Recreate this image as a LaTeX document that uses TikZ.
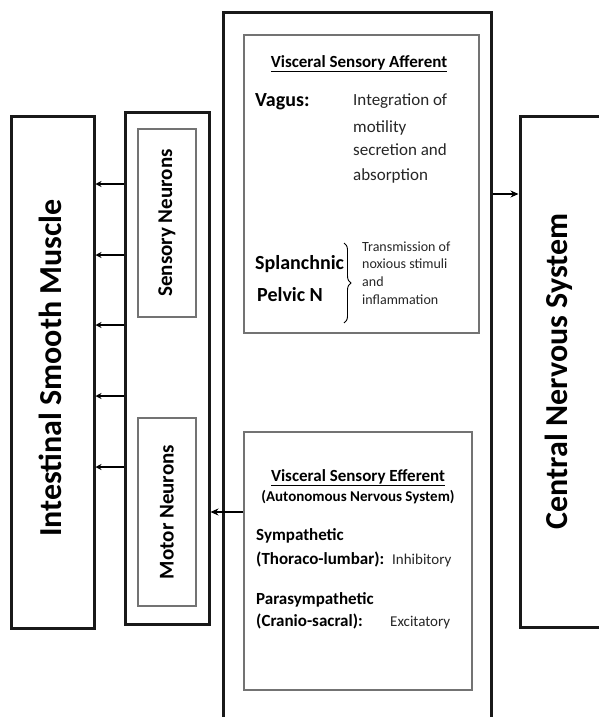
\documentclass[tikz,border=0pt]{standalone}
\usepackage{fontspec}
\setmainfont{Carlito}
\usetikzlibrary{arrows.meta,decorations.pathreplacing}
\def\fsz#1{\fontsize{#1}{#1}\selectfont}

\begin{document}
\begin{tikzpicture}[x=1pt,y=-1pt,
  bigbox/.style={draw=black!90,line width=3pt,rectangle,inner sep=0pt},
  innerbox/.style={draw=black!55,line width=1.6pt,rectangle,inner sep=0pt},
  lbl/.style={anchor=base west,inner sep=0pt,text=black!85},
  blbl/.style={anchor=base west,inner sep=0pt,font=\bfseries},
  tip/.style={line width=2.5pt,-{Stealth[length=8pt,width=7pt]}}]
			%%%%% FRAME %%%%%
			\useasboundingbox[fill=white] (0,0) rectangle (598,717);
			
			%%%%% LEFT SIDE %%%%%
			\node[bigbox, minimum width=83pt, minimum height=512pt] (muscle) at (52.5,372) {};
			\node[rotate=90, font=\fsz{32}\bfseries] (musclelbl) at (50,368) {Intestinal Smooth Muscle};
			
			\node[bigbox, minimum width=84pt, minimum height=512pt] (neurons) at (167,368) {};
			\node[innerbox, minimum width=58pt, minimum height=188pt] (sensory) at (167,223) {};
			\node[rotate=90, font=\fsz{21}\bfseries] (sensorylbl) at (167,223) {Sensory Neurons};
			\node[innerbox, minimum width=58pt, minimum height=188pt] (motor) at (167,512) {};
			\node[rotate=90, font=\fsz{21}\bfseries] (motorlbl) at (167,512) {Motor Neurons};
			
			\foreach \y in {184,255,325,396,467}
				\draw[line width=2.2pt,-{Stealth[length=6pt,width=6pt]}] (neurons.west |- 0,\y) -- (muscle.east |- 0,\y);
			
			%%%%% CENTRE %%%%%
			\node[bigbox, minimum width=268pt, minimum height=740pt] (centre) at (357,383) {};
			
			\node[innerbox, minimum width=235pt, minimum height=298pt] (afferent) at (361.5,184) {};
			\node[anchor=base, inner sep=0pt, font=\fsz{17}\bfseries] (afftitle) at (359,67.5) {\underline{Visceral Sensory Afferent}};
			\node[blbl, font=\fsz{20}\bfseries] (vagus) at (255,106) {Vagus:};
			\foreach \t/\y in {Integration of/105.5, motility/132.5, secretion and/155.5, absorption/180.5}
				\node[lbl, font=\fsz{17}] at (353,\y) {\t};
			\node[blbl, font=\fsz{20}\bfseries] (splanchnic) at (255,269.5) {Splanchnic};
			\node[blbl, font=\fsz{20}\bfseries] (pelvic) at (257,301.5) {Pelvic N};
			\draw[line width=0.9pt, decorate, decoration={brace, amplitude=7pt}] (344,243) -- (344,323);
			\foreach \t/\y in {Transmission of/251.5, noxious stimuli/268, and/286.5, inflammation/304.5}
				\node[lbl, font=\fsz{14}] at (362,\y) {\t};
			
			\node[innerbox, minimum width=228pt, minimum height=258pt] (efferent) at (358,561) {};
			\node[anchor=base, inner sep=0pt, font=\fsz{17}\bfseries] (efftitle) at (358,481.5) {\underline{Visceral Sensory Efferent}};
			\node[anchor=base, inner sep=0pt, font=\fsz{15}\bfseries] (effsub) at (358,501) {(Autonomous Nervous System)};
			\node[blbl, font=\fsz{17}\bfseries] (symp) at (256,540.5) {Sympathetic};
			\node[blbl, font=\fsz{17}\bfseries] (thor) at (256,564.5) {(Thoraco-lumbar):};
			\node[lbl, font=\fsz{15}] (inhib) at (392,564.5) {Inhibitory};
			\node[blbl, font=\fsz{17}\bfseries] (para) at (256,604.5) {Parasympathetic};
			\node[blbl, font=\fsz{17}\bfseries] (cran) at (256,626.5) {(Cranio-sacral):};
			\node[lbl, font=\fsz{15}] (excit) at (390,626.5) {Excitatory};
			
			%%%%% RIGHT SIDE %%%%%
			\node[bigbox, minimum width=84pt, minimum height=511pt] (cns) at (562,371.5) {};
			\node[rotate=90, font=\fsz{32}\bfseries] (cnslbl) at (559,371.5) {Central Nervous System};
			
			%%%%% CONNECTORS %%%%%
			\draw[tip] (centre.east |- 0,194) -- (cns.west |- 0,194);
			\draw[tip] (efferent.west |- motor.center) -- (neurons.east |- motor.center);
			
			%%%%% END %%%%%
		\end{tikzpicture}
\end{document}
